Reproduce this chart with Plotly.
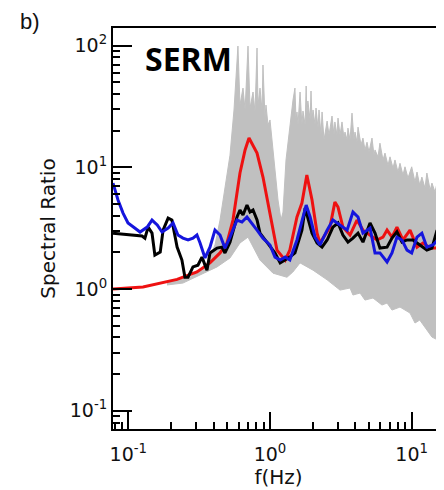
import plotly.graph_objects as go

# ---------------- data ----------------
red_f = [0.078, 0.127, 0.221, 0.305, 0.377, 0.444, 0.497, 0.548, 0.614, 0.667, 0.711,
         0.810, 0.892, 1.0, 1.12, 1.28, 1.38, 1.55, 1.68, 1.82, 1.98, 2.15, 2.25, 2.65,
         2.87, 3.02, 3.27, 3.67, 4.11, 4.53, 5.08, 5.69, 6.27, 6.70, 7.26, 7.87, 8.68,
         9.73, 10.9, 12.0, 13.5, 15.1]
red_v = [1.0, 1.04, 1.2, 1.38, 1.64, 1.98, 2.39, 3.69, 8.98, 13.9, 17.4,
         13.1, 8.32, 4.21, 2.09, 1.73, 2.09, 3.91, 5.09, 8.65, 5.39, 2.88, 2.39, 3.23,
         5.19, 4.72, 3.23, 2.78, 3.69, 3.05, 2.78, 2.53, 2.67, 3.05, 2.67, 3.23, 2.53,
         3.05, 2.21, 2.39, 2.17, 2.17]

black_f = [0.078, 0.125, 0.131, 0.138, 0.147, 0.154, 0.168, 0.176, 0.191, 0.203, 0.221,
           0.239, 0.251, 0.264, 0.286, 0.310, 0.331, 0.359, 0.377, 0.423, 0.458, 0.481,
           0.522, 0.585, 0.614, 0.645, 0.688, 0.723, 0.759, 0.810, 0.850, 0.922, 1.0,
           1.085, 1.18, 1.28, 1.38, 1.50, 1.68, 1.77, 1.85, 1.98, 2.15, 2.33, 2.53, 2.78,
           3.02, 3.27, 3.55, 3.85, 4.18, 4.53, 5.08, 5.51, 5.97, 6.70, 7.26, 7.87, 8.54,
           9.27, 10.2, 11.4, 12.8, 13.9, 15.1]
black_v = [2.88, 2.73, 2.62, 3.23, 2.88, 1.90, 2.01, 3.05, 3.83, 3.69, 2.21,
           1.73, 1.25, 1.25, 1.52, 1.57, 1.83, 1.43, 1.98, 2.17, 2.21, 1.98,
           2.43, 3.91, 4.46, 4.06, 4.90, 4.29, 4.46, 3.69, 2.88, 2.53, 2.21,
           1.98, 1.64, 1.73, 1.83, 1.98, 3.05, 4.63, 3.91, 2.88, 2.39, 2.21, 2.53, 3.23,
           3.49, 2.78, 2.43, 2.62, 2.88, 2.43, 3.49, 2.88, 2.17, 2.21, 2.62, 2.95, 2.43,
           2.53, 2.53, 2.30, 2.09, 2.17, 3.05]

blue_f = [0.078, 0.0846, 0.0918, 0.0995, 0.111, 0.121, 0.136, 0.147, 0.160, 0.173, 0.191,
          0.207, 0.224, 0.243, 0.264, 0.286, 0.305, 0.321, 0.348, 0.377, 0.409, 0.444,
          0.481, 0.522, 0.585, 0.634, 0.688, 0.746, 0.810, 0.892, 1.0, 1.085, 1.18, 1.28,
          1.38, 1.55, 1.68, 1.80, 1.92, 2.08, 2.25, 2.53, 2.78, 3.12, 3.50, 3.85, 4.18,
          4.53, 5.08, 5.51, 5.97, 6.70, 7.26, 7.87, 8.54, 9.27, 10.0, 10.9, 11.8, 12.8,
          14.1, 15.3]
blue_v = [7.43, 5.39, 4.21, 3.49, 3.17, 2.94, 3.23, 3.69, 3.36, 2.94, 3.17,
          3.49, 2.78, 2.62, 2.53, 2.62, 2.78, 2.39, 1.80, 2.21, 3.05, 2.78,
          2.17, 2.67, 3.69, 3.55, 3.91, 3.49, 3.05, 2.62, 2.30, 1.83, 1.73, 1.83,
          1.73, 2.53, 3.69, 4.90, 3.91, 2.67, 2.30, 3.05, 3.69, 3.36, 3.05, 4.29, 3.91,
          2.88, 3.17, 1.98, 1.98, 1.67, 1.98, 2.67, 2.53, 2.09, 1.98, 2.67, 2.88, 2.21,
          2.30, 2.53]

# envelope of the grey realisations (upper edge with its spikes, lower edge)
grey_upper_f = [0.1875, 0.2725, 0.348, 0.409, 0.444, 0.481, 0.522, 0.557, 0.5755, 0.594,
                0.614, 0.645, 0.667, 0.6995, 0.723, 0.759, 0.784, 0.810, 0.823, 0.850,
                0.878, 0.892, 0.922, 0.937, 0.968, 1.0, 1.033, 1.085, 1.139, 1.196,
                1.235, 1.297, 1.38, 1.453, 1.50, 1.526, 1.55, 1.576, 1.63, 1.68,
                1.709, 1.77, 1.80, 1.82, 1.85, 1.92, 1.947, 1.98, 2.012, 2.08,
                2.112, 2.182, 2.218, 2.291, 2.33, 2.405, 2.53, 2.609, 2.739, 2.829,
                2.87, 2.970, 3.02, 3.12, 3.222, 3.328, 3.382, 3.50, 3.55, 3.67,
                3.791, 3.916, 3.980, 4.11, 4.18, 4.386, 4.53, 4.682, 4.837, 4.996,
                5.246, 5.419, 5.51, 5.783, 5.97, 6.27, 6.480, 6.804, 7.029, 7.379,
                7.623, 8.003, 8.268, 8.68, 8.968, 9.417, 10.0, 10.55, 10.9, 11.4,
                11.8, 12.41, 12.8, 13.5, 13.9, 14.60, 15.1, 15.3]
grey_upper_v = [1.12, 1.25, 1.49, 2.30, 3.69, 6.51, 12.6, 29.6, 63.0, 99.2,
                32.5, 44.8, 29.6, 99.2, 30.7, 41.6, 28.5, 95.6, 32.5, 44.8,
                29.6, 69.3, 25.4, 32.5, 22.3, 24.5, 16.8, 9.50, 5.39, 3.69,
                4.29, 11.5, 22.3, 35.7, 44.8, 24.5, 28.5, 22.3, 41.6, 22.3,
                29.0, 22.3, 46.6, 26.9, 35.1, 24.5, 42.4, 24.5, 29.6, 22.3,
                30.7, 21.0, 29.6, 18.4, 28.5, 16.8, 24.0, 18.4, 26.4, 18.4,
                23.6, 18.4, 25.4, 18.4, 23.6, 17.4, 19.5, 16.8, 21.0, 16.8,
                27.9, 16.8, 19.5, 16.1, 21.4, 15.3, 17.4, 13.9, 16.1, 13.4,
                17.4, 12.6, 13.9, 12.2, 15.8, 11.5, 13.1, 10.4, 12.2, 9.87,
                11.5, 9.15, 10.8, 8.65, 10.1, 8.17, 10.1, 7.57, 9.15, 7.15,
                8.32, 6.76, 8.98, 6.51, 7.43, 6.27, 7.43, 5.39]
grey_lower_f = [0.1875, 0.243, 0.321, 0.423, 0.522, 0.614, 0.6995, 0.850, 1.05, 1.318,
                1.45, 1.63, 2.01, 2.53, 3.12, 3.67, 3.85, 4.32, 4.68, 5.33,
                6.17, 6.70, 7.26, 8.27, 9.73, 10.55, 11.4, 12.8, 13.9, 15.3]
grey_lower_v = [1.08, 1.12, 1.30, 1.52, 1.80, 2.39, 2.67, 1.73, 1.35, 1.25,
                1.38, 1.64, 1.43, 1.19, 0.98, 1.02, 0.893, 0.927, 0.812, 0.844,
                0.739, 0.767, 0.672, 0.711, 0.635, 0.526, 0.556, 0.461, 0.403, 0.381]

x_tick_vals = [0.1, 1, 10]
x_tick_text = ["10<sup>-1</sup>", "10<sup>0</sup>", "10<sup>1</sup>"]
y_tick_vals = [0.1, 1, 10, 100]
y_tick_text = ["10<sup>-1</sup>", "10<sup>0</sup>", "10<sup>1</sup>", "10<sup>2</sup>"]

x_range = [-1.108, 1.228]
y_range = [-1.150, 2.145]

# ---------------- figure ----------------
fig = go.Figure()

fig.add_trace(go.Scatter(
    x=grey_upper_f + grey_lower_f[::-1],
    y=grey_upper_v + grey_lower_v[::-1],
    mode="lines", fill="toself", fillcolor="#c0c0c0",
    line=dict(color="#c0c0c0", width=1), hoverinfo="skip"))

fig.add_trace(go.Scatter(x=red_f, y=red_v, mode="lines",
                         line=dict(color="#ee1111", width=3)))
fig.add_trace(go.Scatter(x=black_f, y=black_v, mode="lines",
                         line=dict(color="#000000", width=3)))
fig.add_trace(go.Scatter(x=blue_f, y=blue_v, mode="lines",
                         line=dict(color="#1515dd", width=3)))

minor_vals = [k * 10.0 ** n for n in range(-2, 3) for k in range(2, 10)]
half_decades = [10 ** (k / 2) for k in range(-3, 5)]

FONT = "DejaVu Sans, Liberation Sans, Arial, sans-serif"

fig.update_layout(
    width=436, height=482,
    margin=dict(l=105, r=0, t=20, b=61),
    paper_bgcolor="white", plot_bgcolor="white",
    showlegend=False,
    font=dict(family=FONT, size=19, color="#111"),
    xaxis=dict(
        type="log", range=x_range,
        tickmode="array", tickvals=x_tick_vals, ticktext=x_tick_text,
        tickfont=dict(family=FONT, size=19, color="#111"),
        ticklabelstandoff=7,
        ticks="inside", ticklen=17, tickwidth=2, tickcolor="black",
        showline=True, linewidth=2, linecolor="black", mirror=True,
        showgrid=False, zeroline=False,
        minor=dict(tickmode="array", tickvals=minor_vals, ticks="inside",
                   ticklen=7, tickwidth=1.5, tickcolor="black", showgrid=False),
        title=dict(text="f(Hz)", standoff=3, font=dict(family=FONT, size=20, color="#111")),
    ),
    yaxis=dict(
        type="log", range=y_range,
        tickmode="array", tickvals=y_tick_vals, ticktext=y_tick_text,
        tickfont=dict(family=FONT, size=19, color="#111"),
        ticks="inside", ticklen=19, tickwidth=2, tickcolor="black",
        showline=True, linewidth=2, linecolor="black",
        showgrid=False, zeroline=False,
        minor=dict(tickmode="array", tickvals=minor_vals, ticks="inside",
                   ticklen=7, tickwidth=1.5, tickcolor="black", showgrid=False),
        title=dict(text="Spectral Ratio", standoff=9,
                   font=dict(family=FONT, size=20, color="#111")),
    ),
    xaxis2=dict(
        type="log", range=x_range, overlaying="x", anchor="y2",
        tickmode="array", tickvals=half_decades, showticklabels=False, ticks="",
        showgrid=True, gridcolor="#e4e4e4", gridwidth=1, showline=False, zeroline=False,
    ),
    yaxis2=dict(
        type="log", range=y_range, overlaying="y", anchor="x2",
        tickmode="array", tickvals=half_decades, showticklabels=False, ticks="",
        showgrid=True, gridcolor="#e4e4e4", gridwidth=1, showline=False, zeroline=False,
    ),
    annotations=[
        dict(text="b)", xref="paper", yref="paper", x=-0.251, y=1.017,
             xanchor="center", yanchor="middle", showarrow=False,
             font=dict(family="Liberation Sans, Arial, sans-serif", size=22, color="#111")),
        dict(text="<b>SERM</b>", xref="paper", yref="paper", x=0.2266, y=0.925,
             xanchor="center", yanchor="middle", showarrow=False,
             font=dict(family="Open Sans, sans-serif", size=32, color="black")),
    ],
)

fig.write_html("out.html")
